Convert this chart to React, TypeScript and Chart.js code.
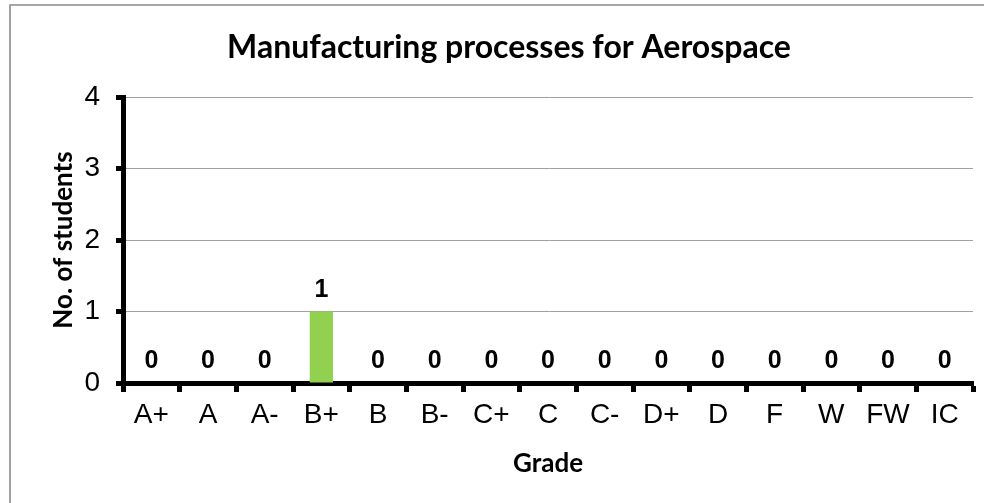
import React, { useEffect, useRef } from "react";
import { Chart, registerables } from "chart.js";

Chart.register(...registerables);

const grades = ["A+", "A", "A-", "B+", "B", "B-", "C+", "C", "C-", "D+", "D", "F", "W", "FW", "IC"];
const students = [0, 0, 0, 1, 0, 0, 0, 0, 0, 0, 0, 0, 0, 0, 0];
const yTicks = [0, 1, 2, 3, 4];
const chartTitle = "Manufacturing processes for Aerospace";
const xTitle = "Grade";
const yTitle = "No. of students";

const W = 984;
const H = 503;

const TITLE_FONT = "Lato, 'Open Sans', sans-serif";
const TICK_FONT = "'Liberation Sans', Arial, sans-serif";

const decorPlugin = {
  id: "decor",
  beforeDraw(chart: any) {
    const ctx = chart.ctx;
    ctx.save();
    ctx.fillStyle = "#ffffff";
    ctx.fillRect(0, 0, chart.width, chart.height);
    ctx.strokeStyle = "#8a8a8a";
    ctx.lineWidth = 1.6;
    ctx.beginPath();
    ctx.moveTo(10, chart.height + 5);
    ctx.lineTo(10, 5);
    ctx.lineTo(chart.width + 5, 5);
    ctx.stroke();
    ctx.restore();
  },
  afterDraw(chart: any) {
    const ctx = chart.ctx;
    const area = chart.chartArea;
    ctx.save();
    ctx.fillStyle = "#000";
    ctx.textAlign = "center";
    ctx.textBaseline = "alphabetic";
    ctx.font = `bold 32px ${TITLE_FONT}`;
    ctx.fillText(chartTitle, 509, 58);
    ctx.font = `bold 26px ${TITLE_FONT}`;
    ctx.fillText(xTitle, (area.left + area.right) / 2, 472);
    ctx.translate(72, (area.top + area.bottom) / 2);
    ctx.rotate(-Math.PI / 2);
    ctx.fillText(yTitle, 0, 0);
    ctx.restore();
  },
  afterDatasetsDraw(chart: any) {
    const ctx = chart.ctx;
    const meta = chart.getDatasetMeta(0);
    const data = chart.data.datasets[0].data;
    ctx.save();
    ctx.fillStyle = "#000";
    ctx.font = `bold 25px ${TICK_FONT}`;
    ctx.textAlign = "center";
    ctx.textBaseline = "alphabetic";
    meta.data.forEach((el: any, i: number) => {
      ctx.fillText(String(data[i]), el.x, el.y - 15);
    });
    ctx.restore();
  },
};

export default function App() {
  const ref = useRef<HTMLCanvasElement>(null);
  useEffect(() => {
    if (!ref.current) return;
    const chart = new Chart(ref.current, {
      type: "bar",
      data: {
        labels: grades,
        datasets: [
          {
            data: students,
            backgroundColor: "#92D050",
            barPercentage: 0.41,
            categoryPercentage: 1,
          },
        ],
      },
      options: {
        animation: false,
        responsive: false,
        layout: { padding: { left: 0, right: 11, top: 97, bottom: 0 } },
        plugins: {
          legend: { display: false },
          title: { display: false, text: chartTitle },
          tooltip: { enabled: false },
        },
        scales: {
          x: {
            grid: {
              display: true,
              drawOnChartArea: false,
              drawTicks: true,
              tickLength: 9,
              tickColor: "#000",
              tickWidth: 5,
              offset: true,
            },
            border: { display: true, color: "#000", width: 5 },
            ticks: {
              color: "#000",
              font: { family: TICK_FONT, size: 28 },
              padding: 6,
              maxRotation: 0,
              autoSkip: false,
            },
            afterFit: (s: any) => {
              s.height = 120;
            },
          },
          y: {
            min: 0,
            max: 4,
            afterBuildTicks: (s: any) => {
              s.ticks = yTicks.map((v) => ({ value: v }));
            },
            grid: {
              color: "#A0A0A0",
              lineWidth: 1,
              drawTicks: true,
              tickLength: 7,
              tickColor: "#000",
              tickWidth: 5,
            },
            border: { display: true, color: "#000", width: 5 },
            ticks: {
              color: "#000",
              font: { family: TICK_FONT, size: 28 },
              padding: 16,
            },
            afterFit: (s: any) => {
              s.width = 123;
            },
          },
        },
      },
      plugins: [decorPlugin],
    });
    return () => chart.destroy();
  }, []);
  return (
    <div style={{ position: "absolute", left: 0, top: 0, width: W, height: H }}>
      <canvas ref={ref} width={W} height={H} style={{ display: "block", width: W + "px", height: H + "px" }} />
    </div>
  );
}
